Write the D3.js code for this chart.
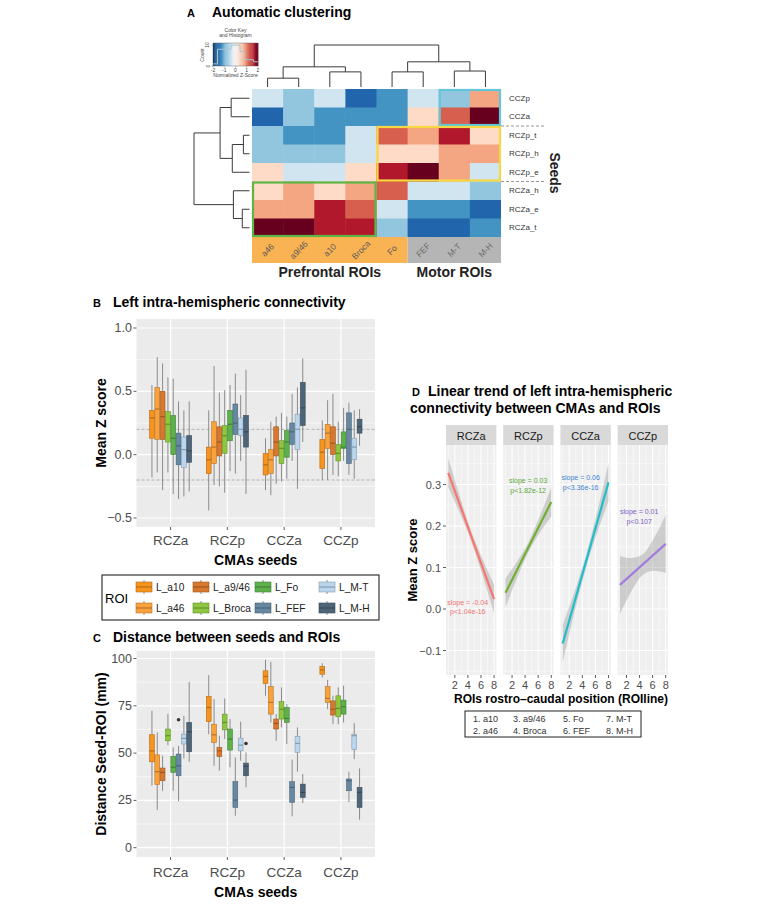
<!DOCTYPE html>
<html>
<head>
<meta charset="utf-8">
<script src="https://cdn.jsdelivr.net/npm/d3@7/dist/d3.min.js"></script>
<style>
html,body{margin:0;padding:0;background:#fff;}
svg{display:block;}
</style>
</head>
<body>
<svg id="fig" width="762" height="908" xmlns="http://www.w3.org/2000/svg"></svg>
<script>
// ===================== DATA =====================
// Panel A : heatmap of normalized Z-scores
const hmCols = ["a46","a9/46","a10","Broca","Fo","FEF","M-T","M-H"];
const hmRows = ["CCZp","CCZa","RCZp_t","RCZp_h","RCZp_e","RCZa_h","RCZa_e","RCZa_t"];
const hmZ = [
  [-0.2,-0.6,-0.2,-1.4,-1.0,-0.2,-0.6, 0.6],
  [-1.4,-0.6,-1.0,-1.0,-1.0, 0.2, 1.0, 1.8],
  [-0.6,-1.0,-1.0,-0.2, 1.0, 0.6, 1.4, 0.2],
  [-0.6,-0.6,-0.6,-0.2, 0.2, 0.2, 0.6, 0.6],
  [ 0.2,-0.2,-0.2, 0.2, 1.4, 1.8, 0.6,-0.2],
  [ 0.2, 0.6, 0.2, 0.6, 1.0,-0.2,-0.2,-0.6],
  [ 0.6, 0.6, 1.4, 1.0,-0.2,-1.0,-1.0,-1.4],
  [ 1.8, 1.8, 1.4, 1.4,-0.6,-1.4,-1.4,-1.0]
];
// dendrogram merges: [left, right, height]  ("mN" = result of merge N)
const rowMerges = [
  ["CCZp","CCZa",0.33],
  ["RCZp_t","RCZp_h",0.11],
  ["m1","RCZp_e",0.31],
  ["m0","m2",0.53],
  ["RCZa_e","RCZa_t",0.13],
  ["RCZa_h","m4",0.29],
  ["m3","m5",1.0]
];
const colMerges = [
  ["a46","a9/46",0.21],
  ["a10","Broca",0.36],
  ["m0","m1",0.48],
  ["Fo","FEF",0.36],
  ["M-T","M-H",0.38],
  ["m3","m4",0.60],
  ["m2","m5",1.0]
];
const hmGroups = [
  {rows:["CCZp","CCZa"], cols:["M-T","M-H"]},
  {rows:["RCZp_t","RCZp_e"], cols:["Fo","M-H"]},
  {rows:["RCZa_h","RCZa_t"], cols:["a46","Broca"]}
];
const hmBandGroups = [
  {label:"Prefrontal ROIs", cols:["a46","a9/46","a10","Broca","Fo"]},
  {label:"Motor ROIs", cols:["FEF","M-T","M-H"]}
];
const keyTicks = [-2,-1,0,1,2];
const keyHist = [1,8,8,8,10,10,7,3,3,2];   // counts per 0.4-wide bin

// Panels B & C : boxplots  [lower whisker, Q1, median, Q3, upper whisker]
const seeds = ["RCZa","RCZp","CCZa","CCZp"];
const rois = ["L_a10","L_a46","L_a9/46","L_Broca","L_Fo","L_FEF","L_M-T","L_M-H"];
const connRCZa = [[-0.18,0.13,0.29,0.35,0.55],[-0.14,0.12,0.36,0.53,0.77],[-0.28,0.12,0.30,0.50,0.72],[-0.14,0.10,0.24,0.34,0.61],
                  [-0.31,0.00,0.13,0.31,0.60],[-0.35,-0.08,0.07,0.17,0.42],[-0.33,-0.10,0.04,0.14,0.35],[-0.29,-0.06,0.03,0.15,0.42]];
const connRCZp = [[-0.44,-0.15,-0.04,0.06,0.35],[-0.24,-0.07,0.06,0.26,0.70],[-0.25,-0.01,0.10,0.22,0.49],[-0.30,0.01,0.15,0.23,0.51],
                  [-0.13,0.11,0.24,0.35,0.55],[-0.15,0.16,0.25,0.40,0.64],[-0.05,0.15,0.20,0.29,0.47],[-0.31,0.06,0.18,0.31,0.67]];
const connCCZa = [[-0.28,-0.16,-0.08,0.01,0.13],[-0.32,-0.15,-0.04,0.04,0.26],[-0.23,-0.01,0.10,0.22,0.30],[-0.21,-0.07,0.05,0.11,0.33],
                  [-0.19,-0.02,0.10,0.19,0.30],[-0.05,0.08,0.18,0.25,0.48],[-0.27,0.04,0.20,0.32,0.53],[0.10,0.23,0.37,0.57,0.76]];
const connCCZp = [[-0.20,-0.11,0.02,0.12,0.27],[-0.20,0.05,0.17,0.24,0.43],[-0.16,0.00,0.09,0.22,0.48],[-0.17,-0.05,0.01,0.08,0.26],
                  [-0.05,0.05,0.06,0.18,0.37],[-0.16,-0.07,0.20,0.33,0.41],[-0.19,-0.04,0.06,0.13,0.35],[0.07,0.17,0.22,0.28,0.36]];
const connRefLines = [0.2,-0.2];
const connTicks = [-0.5,0,0.5,1.0];
const connTickLabels = ["\u22120.5","0.0","0.5","1.0"];

const distRCZa = [[32.8,45.4,51.2,59.7,72.4],[19.9,33.3,40.2,49.1,60.9],[30.1,35.4,39.8,42.1,48.6],[54.2,56.5,59.2,62.7,70.6],
                  [30.1,39.8,42.5,48.3,53.0],[24.5,38.0,43.3,49.5,53.9],[47.2,54.8,57.8,60.0,69.7],[45.4,50.7,61.3,66.2,87.7]];
const distRCZp = [[60.0,66.6,74.1,79.9,91.2],[43.3,55.6,59.7,65.3,78.5],[40.7,48.1,51.2,53.0,59.2],[57.4,62.3,66.2,70.6,78.9],
                  [42.5,51.6,57.4,62.7,68.0],[16.9,21.3,25.2,34.9,47.7],[46.0,51.2,54.2,57.9,66.6],[31.9,38.0,43.0,44.7,50.4]];
const distCCZa = [[80.3,86.8,90.5,93.5,99.3],[66.2,70.6,76.8,85.2,98.2],[56.5,62.7,65.7,68.0,70.6],[63.6,68.0,73.2,77.3,84.7],
                  [54.8,66.2,68.3,74.1,75.9],[16.6,24.0,31.9,34.9,46.5],[40.2,50.4,55.1,58.8,63.6],[23.6,26.6,29.2,33.6,38.9]];
const distCCZp = [[90.0,91.7,94.0,95.8,97.5],[73.2,76.8,78.9,85.2,88.7],[65.3,70.1,73.2,77.6,80.3],[65.3,69.2,73.6,80.3,84.7],
                  [66.2,70.6,74.5,78.0,85.6],[24.0,30.1,35.4,36.3,40.2],[46.8,51.8,59.2,60.0,65.9],[14.8,21.3,29.2,31.9,41.9]];
const distOutliers = [["RCZa","L_FEF",67.6],["RCZp","L_M-H",55.1]];
const distTicks = [0,25,50,75,100];

// Panel D : linear fits per CMA seed
const dFacets = ["RCZa","RCZp","CCZa","CCZp"];
const dFitX = [1,8];
const dFitY = [[0.328,0.024],[0.039,0.258],[-0.083,0.305],[0.058,0.157]];
const dBandX = [1,2.75,4.5,6.25,8];
const dBandLo = [[0.293,0.232,0.164,0.080,-0.011],[0.004,0.074,0.137,0.184,0.223],[-0.128,-0.011,0.096,0.183,0.260],[-0.012,0.043,0.082,0.092,0.087]];
const dBandHi = [[0.363,0.272,0.188,0.120,0.059],[0.074,0.114,0.161,0.224,0.293],[-0.038,0.039,0.126,0.233,0.350],[0.128,0.123,0.132,0.172,0.227]];
const dSlopeText = ["slope = -0.04","slope = 0.03","slope = 0.06","slope = 0.01"];
const dPText = ["p<1.04e-16","p<1.82e-12","p<3.36e-16","p<0.107"];
const dLabelPos = [[3.97,0.016],[4.46,0.309],[3.74,0.316],[3.94,0.234]];
const dYTicks = [-0.1,0,0.1,0.2,0.3];
const dYTickLabels = ["\u22120.1","0.0","0.1","0.2","0.3"];
const dXTicks = [2,4,6,8];
const dLegend = [["1. a10","2. a46"],["3. a9/46","4. Broca"],["5. Fo","6. FEF"],["7. M-T","8. M-H"]];

// ===================== DRAWING =====================
const FONT = "'Liberation Sans', Arial, Helvetica, sans-serif";
const svg = d3.select("#fig").style("font-family", FONT);
svg.append("rect").attr("width",762).attr("height",908).attr("fill","#fff");

function txt(g, x, y, s, o = {}) {
  const t = g.append("text").attr("x", x).attr("y", y).text(s)
    .attr("font-size", o.size || 12).attr("fill", o.fill || "#000")
    .attr("text-anchor", o.anchor || "start");
  if (o.bold) t.attr("font-weight", "bold");
  if (o.rot != null) t.attr("transform", `rotate(${o.rot},${x},${y})`);
  if (o.mid) t.attr("dominant-baseline", "central");
  return t;
}
function hline(g, x0, x1, y, col, w, dash) {
  const l = g.append("line").attr("x1", x0).attr("x2", x1).attr("y1", y).attr("y2", y)
    .attr("stroke", col).attr("stroke-width", w);
  if (dash) l.attr("stroke-dasharray", dash);
  return l;
}
function vline(g, x, y0, y1, col, w) {
  return g.append("line").attr("x1", x).attr("x2", x).attr("y1", y0).attr("y2", y1)
    .attr("stroke", col).attr("stroke-width", w);
}

// ---------------- Panel A ----------------
const gA = svg.append("g");
txt(gA, 187, 17, "A", {size: 11, bold: true});
txt(gA, 212, 17, "Automatic clustering", {size: 14, bold: true});

const heatPalette = ["#053061","#2166ac","#4393c3","#92c5de","#d1e5f0","#fddbc7","#f4a582","#d6604d","#b2182b","#67001f"];
const hx = d3.scaleBand().domain(hmCols).range([252, 501]);
const hy = d3.scaleBand().domain(hmRows).range([89, 237]);
const hcol = d3.scaleQuantize().domain([-2, 2]).range(heatPalette);

hmRows.forEach((r, i) => hmCols.forEach((c, j) => {
  gA.append("rect").attr("x", hx(c)).attr("y", hy(r))
    .attr("width", hx.bandwidth() + (j < hmCols.length - 1 ? 0.5 : 0))
    .attr("height", hy.bandwidth() + (i < hmRows.length - 1 ? 0.5 : 0))
    .attr("fill", hcol(hmZ[i][j]));
}));

// column label band
const bandColors = ["#fab352", "#b5b5b5"];
hmBandGroups.forEach((grp, k) => {
  const xa = hx(grp.cols[0]), xb = hx(grp.cols[grp.cols.length - 1]) + hx.bandwidth();
  gA.append("rect").attr("x", xa).attr("y", 237).attr("width", xb - xa).attr("height", 26).attr("fill", bandColors[k]);
  txt(gA, (xa + xb) / 2, 277, grp.label, {size: 14, bold: true, anchor: "middle", fill: "#222"});
  grp.cols.forEach(c => {
    const cx = hx(c) + hx.bandwidth() / 2;
    txt(gA, cx, 250, c, {size: 8.5, anchor: "middle", mid: true, fill: k === 0 ? "#5a5a5a" : "#6a6a6a"})
      .attr("transform", `rotate(-45,${cx},250)`);
  });
});

// group outlines
const groupColors = ["#63c6d8", "#f7d842", "#5fb446"];
hmGroups.forEach((grp, k) => {
  const xa = hx(grp.cols[0]), xb = hx(grp.cols[1]) + hx.bandwidth();
  const ya = hy(grp.rows[0]), yb = hy(grp.rows[1]) + hy.bandwidth();
  gA.append("rect").attr("x", xa + 1).attr("y", ya + 1).attr("width", xb - xa - 2).attr("height", yb - ya - 2)
    .attr("fill", "none").attr("stroke", groupColors[k]).attr("stroke-width", 2.2);
});
// dashed separators
["RCZp_t", "RCZa_h"].forEach(r => hline(gA, 501, 544, hy(r), "#8a8a8a", 0.9, "3,2"));
// row labels
hmRows.forEach(r => txt(gA, 509, hy(r) + hy.bandwidth() / 2, r, {size: 8, mid: true, fill: "#333"}));
txt(gA, 550, 173, "Seeds", {size: 14, bold: true, anchor: "middle", rot: 90, fill: "#222"});

// dendrograms
function drawDendro(g, merges, leafPos, orient, hs) {
  const pos = {}, hgt = {};
  merges.forEach((m, i) => {
    [m[0], m[1]].forEach(id => { if (!(id in pos)) { pos[id] = leafPos(id); hgt[id] = 0; } });
    const [a, b, h] = m, id = "m" + i;
    pos[id] = (pos[a] + pos[b]) / 2; hgt[id] = h;
    let d;
    if (orient === "top") d = `M${pos[a]},${hs(hgt[a])}V${hs(h)}H${pos[b]}V${hs(hgt[b])}`;
    else d = `M${hs(hgt[a])},${pos[a]}H${hs(h)}V${pos[b]}H${hs(hgt[b])}`;
    g.append("path").attr("d", d).attr("fill", "none").attr("stroke", "#3a3a3a").attr("stroke-width", 1);
  });
}
drawDendro(gA, rowMerges, r => hy(r) + hy.bandwidth() / 2, "left", d3.scaleLinear().domain([0, 1]).range([249.5, 194]));
drawDendro(gA, colMerges, c => hx(c) + hx.bandwidth() / 2, "top", d3.scaleLinear().domain([0, 1]).range([87, 45]));

// colour key + histogram
const kx = d3.scaleLinear().domain([-2, 2]).range([213, 258]);
const ky = d3.scaleLinear().domain([0, 11]).range([66, 43]);
const nK = 40;
for (let i = 0; i < nK; i++) {
  const v0 = -2 + 4 * i / nK;
  gA.append("rect").attr("x", kx(v0)).attr("y", 43).attr("width", (kx(2) - kx(-2)) / nK + 0.3).attr("height", 23)
    .attr("fill", d3.interpolateRdBu(1 - (i + 0.5) / nK));
}
const histPts = [];
keyHist.forEach((c, i) => { histPts.push([-2 + 0.4 * i, c]); histPts.push([-2 + 0.4 * (i + 1), c]); });
gA.append("path").attr("d", d3.line().x(d => kx(d[0])).y(d => ky(d[1]))(histPts))
  .attr("fill", "none").attr("stroke", "#a9c3cf").attr("stroke-width", 1);
gA.append("rect").attr("x", 213).attr("y", 43).attr("width", 45).attr("height", 23).attr("fill", "none").attr("stroke", "#555").attr("stroke-width", 0.4);
keyTicks.forEach(t => {
  vline(gA, kx(t), 66, 67.5, "#555", 0.4);
  txt(gA, kx(t), 71.5, t === -2 ? "-2" : t === -1 ? "-1" : String(t), {size: 5, anchor: "middle", fill: "#444"});
});
[0, 10].forEach(t => {
  hline(gA, 211.5, 213, ky(t), "#555", 0.4);
  txt(gA, 209.5, ky(t), String(t), {size: 5, anchor: "middle", rot: -90, fill: "#444"});
});
txt(gA, 204, 55, "Count", {size: 5, anchor: "middle", rot: -90, fill: "#444"});
txt(gA, 235.5, 77, "Normalized Z-Score", {size: 5, anchor: "middle", fill: "#444"});
txt(gA, 235.5, 32, "Color Key", {size: 5, anchor: "middle", fill: "#444"});
txt(gA, 235.5, 37, "and Histogram", {size: 5, anchor: "middle", fill: "#444"});

// ---------------- Panels B & C ----------------
const roiColors = ["#f7941e", "#f9a13a", "#d9782d", "#8dc63f", "#5db14b", "#6688a2", "#b9d6ee", "#4e6579"];
const sx = d3.scalePoint().domain(seeds).range([136.5, 375]).padding(0.6);
const rb = d3.scaleBand().domain(rois).range([-0.375 * sx.step(), 0.375 * sx.step()]);

function boxPanel(g, cfg) {
  const {y0, y1, y, ticks, tickLabels, minor, data, outliers, refLines} = cfg;
  const x0 = 136.5, x1 = 375;
  g.append("rect").attr("x", x0).attr("y", y0).attr("width", x1 - x0).attr("height", y1 - y0).attr("fill", "#ebebeb");
  minor.forEach(v => hline(g, x0, x1, y(v), "#fff", 0.6));
  ticks.forEach(v => hline(g, x0, x1, y(v), "#fff", 1.2));
  seeds.forEach(s => vline(g, sx(s), y0, y1, "#fff", 1.2));
  (refLines || []).forEach(v => hline(g, x0, x1, y(v), "#9a9a9a", 0.7, "3,2"));
  seeds.forEach((s, si) => {
    rois.forEach((r, ri) => {
      const st = data[si][ri];
      const w = rb.bandwidth(), left = sx(s) + rb(r), cx = left + w / 2;
      const col = roiColors[ri], dark = d3.color(col).darker(0.9).formatHex();
      vline(g, cx, y(st[4]), y(st[3]), "#808080", 0.9);
      vline(g, cx, y(st[1]), y(st[0]), "#808080", 0.9);
      g.append("rect").attr("x", left + 0.25).attr("y", y(st[3])).attr("width", w - 0.5).attr("height", y(st[1]) - y(st[3]))
        .attr("fill", col).attr("stroke", dark).attr("stroke-width", 0.6);
      hline(g, left + 0.25, left + w - 0.25, y(st[2]), dark, 1.2);
    });
  });
  (outliers || []).forEach(o => {
    const cx = sx(o[0]) + rb(o[1]) + rb.bandwidth() / 2;
    g.append("circle").attr("cx", cx).attr("cy", y(o[2])).attr("r", 1.8).attr("fill", "#333");
  });
  // axes
  ticks.forEach((v, i) => {
    hline(g, x0 - 3, x0, y(v), "#333", 0.8);
    txt(g, x0 - 4.5, y(v), tickLabels[i], {size: 12.5, anchor: "end", mid: true, fill: "#4d4d4d"});
  });
  seeds.forEach(s => {
    vline(g, sx(s), y1, y1 + 3, "#333", 0.8);
    txt(g, sx(s), cfg.xlabY, s, {size: 13.5, anchor: "middle", fill: "#4d4d4d"});
  });
  txt(g, (x0 + x1) / 2, cfg.xtitleY, "CMAs seeds", {size: 14, bold: true, anchor: "middle"});
  txt(g, 106, (y0 + y1) / 2, cfg.ytitle, {size: 14, bold: true, anchor: "middle", rot: -90});
}

// Panel B
const gB = svg.append("g");
txt(gB, 93, 307, "B", {size: 11, bold: true});
txt(gB, 113, 307, "Left intra-hemispheric connectivity", {size: 14, bold: true});
boxPanel(gB, {
  y0: 319, y1: 527, y: d3.scaleLinear().domain([-0.5, 1.0]).range([518, 328]),
  ticks: connTicks, tickLabels: connTickLabels, minor: [-0.25, 0.25, 0.75],
  data: [connRCZa, connRCZp, connCCZa, connCCZp], refLines: connRefLines,
  xlabY: 545, xtitleY: 565, ytitle: "Mean Z score"
});

// Legend B
const gL = svg.append("g");
gL.append("rect").attr("x", 102).attr("y", 575).attr("width", 277).attr("height", 45)
  .attr("fill", "#fff").attr("stroke", "#222").attr("stroke-width", 1.1);
txt(gL, 105, 598, "ROI", {size: 13, mid: true});
const legColX = [136, 193, 255, 319];
const legRowY = [587, 608];
rois.forEach((r, i) => {
  const kxp = legColX[Math.floor(i / 2)], cy = legRowY[i % 2];
  const col = roiColors[i], dark = d3.color(col).darker(0.9).formatHex();
  vline(gL, kxp + 8, cy - 7, cy + 7, "#808080", 0.9);
  gL.append("rect").attr("x", kxp).attr("y", cy - 5).attr("width", 16).attr("height", 10)
    .attr("fill", col).attr("stroke", dark).attr("stroke-width", 0.6);
  hline(gL, kxp, kxp + 16, cy, dark, 1.2);
  txt(gL, kxp + 20, cy, r, {size: 10.2, mid: true, fill: "#222"});
});

// Panel C
const gC = svg.append("g");
txt(gC, 93, 642, "C", {size: 11, bold: true});
txt(gC, 113, 642, "Distance between seeds and ROIs", {size: 14, bold: true});
boxPanel(gC, {
  y0: 651, y1: 857, y: d3.scaleLinear().domain([0, 100]).range([847.7, 658.5]),
  ticks: distTicks, tickLabels: distTicks.map(String), minor: [12.5, 37.5, 62.5, 87.5],
  data: [distRCZa, distRCZp, distCCZa, distCCZp], outliers: distOutliers,
  xlabY: 877, xtitleY: 897, ytitle: "Distance Seed-ROI (mm)"
});

// ---------------- Panel D ----------------
const gD = svg.append("g");
txt(gD, 412, 396, "D", {size: 11, bold: true});
txt(gD, 428, 396, "Linear trend of left intra-hemispheric", {size: 14, bold: true});
txt(gD, 410, 413, "connectivity between CMAs and ROIs", {size: 14, bold: true});

const fitColors = ["#f8766d", "#6fb02e", "#1ebfcb", "#a27ddc"];
const labelColors = ["#f07470", "#5ea83a", "#3e86d3", "#7f62c6"];
const fb = d3.scaleBand().domain(dFacets).range([446, 668]).paddingInner(0.12);
const dx = d3.scaleLinear().domain([0.65, 8.35]).range([0, fb.bandwidth()]);
const dy = d3.scaleLinear().domain([-0.1, 0.3]).range([650.5, 484.5]);
const dTop = 445, dBot = 675;
dFacets.forEach((f, i) => {
  const g = gD.append("g").attr("transform", `translate(${fb(f)},0)`);
  const bw = fb.bandwidth();
  g.append("rect").attr("x", 0).attr("y", 425).attr("width", bw).attr("height", 20).attr("fill", "#d9d9d9");
  txt(g, bw / 2, 435.5, f, {size: 11, anchor: "middle", mid: true, fill: "#1a1a1a"});
  g.append("rect").attr("x", 0).attr("y", dTop).attr("width", bw).attr("height", dBot - dTop).attr("fill", "#efefef");
  [-0.15, -0.05, 0.05, 0.15, 0.25, 0.35].forEach(v => hline(g, 0, bw, dy(v), "#fff", 0.5));
  dYTicks.forEach(v => hline(g, 0, bw, dy(v), "#fff", 1));
  [1, 3, 5, 7].forEach(v => vline(g, dx(v), dTop, dBot, "#fff", 0.5));
  dXTicks.forEach(v => vline(g, dx(v), dTop, dBot, "#fff", 1));
  const band = dBandX.map((x, k) => [x, dBandLo[i][k], dBandHi[i][k]]);
  g.append("path").attr("d", d3.area().x(d => dx(d[0])).y0(d => dy(d[1])).y1(d => dy(d[2])).curve(d3.curveMonotoneX)(band))
    .attr("fill", "#999").attr("fill-opacity", 0.4);
  g.append("path").attr("d", d3.line().x(d => dx(d[0])).y(d => dy(d[1]))(dFitX.map((x, k) => [x, dFitY[i][k]])))
    .attr("stroke", fitColors[i]).attr("stroke-width", 2.2).attr("fill", "none");
  const lp = dLabelPos[i];
  txt(g, dx(lp[0]), dy(lp[1]), dSlopeText[i], {size: 7, anchor: "middle", mid: true, fill: labelColors[i]});
  txt(g, dx(lp[0]), dy(lp[1]) + 9.5, dPText[i], {size: 7, anchor: "middle", mid: true, fill: labelColors[i]});
  dXTicks.forEach(v => {
    vline(g, dx(v), dBot, dBot + 3, "#333", 0.8);
    txt(g, dx(v), 689, String(v), {size: 11, anchor: "middle", fill: "#4d4d4d"});
  });
});
dYTicks.forEach((v, k) => {
  hline(gD, 443, 446, dy(v), "#333", 0.8);
  txt(gD, 441, dy(v), dYTickLabels[k], {size: 11, anchor: "end", mid: true, fill: "#4d4d4d"});
});
txt(gD, 561, 703, "ROIs rostro\u2013caudal position (ROIline)", {size: 12, bold: true, anchor: "middle"});
txt(gD, 417, (dTop + dBot) / 2, "Mean Z score", {size: 13, bold: true, anchor: "middle", rot: -90});

// Legend D
gD.append("rect").attr("x", 465).attr("y", 711).attr("width", 176).attr("height", 26)
  .attr("fill", "#fff").attr("stroke", "#222").attr("stroke-width", 1);
const dLegX = [473, 513, 563, 606];
dLegend.forEach((col, ci) => col.forEach((s, ri) => {
  txt(gD, dLegX[ci], ri === 0 ? 721.5 : 734, s, {size: 9, fill: "#333"});
}));
</script>
</body>
</html>
